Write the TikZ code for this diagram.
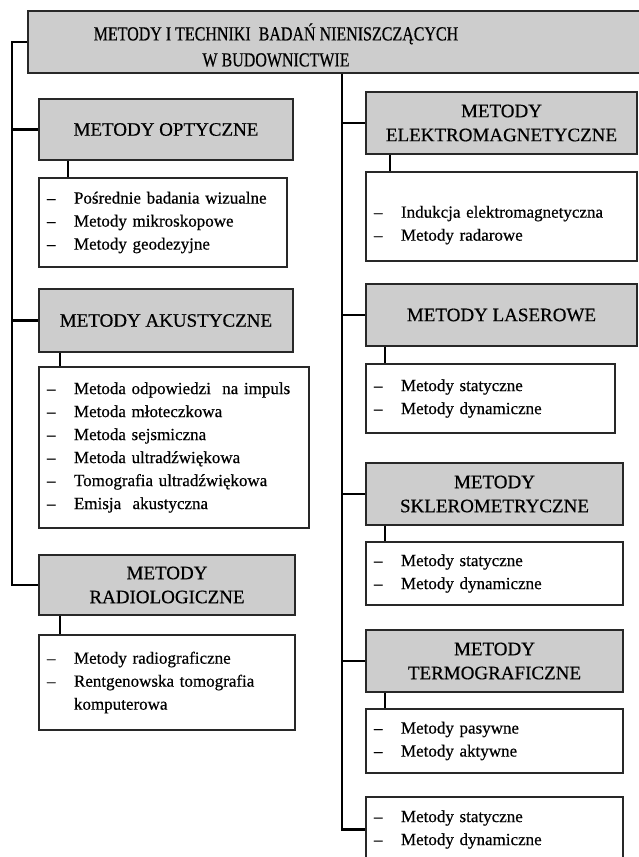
\documentclass[tikz,border=0pt]{standalone}
\usepackage{fontspec}
\setmainfont[FakeBold=0.5]{Liberation Serif}
\newfontfamily\titlefont[FakeStretch=0.8,FakeBold=0.5]{Liberation Serif}
\definecolor{hdrfill}{RGB}{205,205,205}
\definecolor{bordc}{RGB}{40,40,40}
\newcommand{\itm}[1]{\makebox[27pt][l]{–}#1}
\begin{document}
\begin{tikzpicture}[x=1pt,y=-1pt,
 hdr/.style={draw=bordc, line width=1.4pt, fill=hdrfill, inner sep=0pt, align=center, font=\fontsize{19}{24}\selectfont},
 lst/.style={draw=bordc, line width=1.4pt, fill=white, inner xsep=8pt, inner ysep=0pt, align=left, font=\fontsize{17}{23}\selectfont},
 trunk/.style={line width=2.6pt, black},
 stub/.style={line width=2.2pt, black}]
\useasboundingbox (0,0) rectangle (638,857);
\fill[white] (0,0) rectangle (638,857);
% title
\node[hdr, minimum width=622pt, minimum height=62pt] (title) at (339,42) {};
\node[font=\titlefont\fontsize{20}{26}\selectfont, align=center, inner sep=0pt] (titletxt) at (276,45)
 {METODY I TECHNIKI\ \ BADAŃ NIENISZCZĄCYCH\\W BUDOWNICTWIE};
% left column
\node[hdr, minimum width=254pt, minimum height=61pt] (hOpt) at (166,129.5) {METODY OPTYCZNE};
\node[lst, minimum width=248pt, text width=232pt, minimum height=89pt] (lOpt) at (163,222.5)
 {\itm{Pośrednie badania wizualne}\\\itm{Metody mikroskopowe}\\\itm{Metody geodezyjne}};
\node[hdr, minimum width=254pt, minimum height=63pt] (hAku) at (166,320.5) {METODY AKUSTYCZNE};
\node[lst, minimum width=270pt, text width=254pt, minimum height=161pt] (lAku) at (174,447.5)
 {\itm{Metoda odpowiedzi\ \ na impuls}\\\itm{Metoda młoteczkowa}\\\itm{Metoda sejsmiczna}\\\itm{Metoda ultradźwiękowa}\\\itm{Tomografia ultradźwiękowa}\\\itm{Emisja\ \ akustyczna}};
\node[hdr, minimum width=256pt, minimum height=60pt] (hRad) at (167,585) {METODY\\RADIOLOGICZNE};
\node[lst, minimum width=256pt, text width=240pt, minimum height=95pt] (lRad) at (167,682.5)
 {\itm{Metody radiograficzne}\\\itm{Rentgenowska tomografia}\\\hspace*{27pt}komputerowa};
% right column
\node[hdr, minimum width=271pt, minimum height=62pt] (hEle) at (501.5,123) {METODY\\ELEKTROMAGNETYCZNE};
\node[lst, minimum width=271pt, text width=255pt, minimum height=89pt] (lEle) at (501.5,216.5)
 {\rule{0pt}{29pt}\itm{Indukcja elektromagnetyczna}\\\itm{Metody radarowe}};
\node[hdr, minimum width=271pt, minimum height=62pt] (hLas) at (501.5,315) {METODY LASEROWE};
\node[lst, minimum width=249pt, text width=233pt, minimum height=69pt] (lLas) at (490.5,398.5)
 {\itm{Metody statyczne}\\\itm{Metody dynamiczne}};
\node[hdr, minimum width=257pt, minimum height=62pt] (hSkl) at (494.5,494) {METODY\\SKLEROMETRYCZNE};
\node[lst, minimum width=257pt, text width=241pt, minimum height=63pt] (lSkl) at (494.5,573.5)
 {\itm{Metody statyczne}\\\itm{Metody dynamiczne}};
\node[hdr, minimum width=257pt, minimum height=62pt] (hTer) at (494.5,661) {METODY\\TERMOGRAFICZNE};
\node[lst, minimum width=257pt, text width=241pt, minimum height=64pt] (lTer) at (494.5,741)
 {\itm{Metody pasywne}\\\itm{Metody aktywne}};
\node[lst, minimum width=257pt, text width=241pt, minimum height=65pt] (lBot) at (494.5,829.5)
 {\itm{Metody statyczne}\\\itm{Metody dynamiczne}};
% trunks
\coordinate (L) at (12,0);
\coordinate (R) at (342,0);
\draw[trunk] (title.west) -| (L |- hRad.west) -- (hRad.west);
\draw[trunk] (L |- hOpt.west) -- (hOpt.west);
\draw[trunk] (L |- hAku.west) -- (hAku.west);
\draw[trunk] (title.south -| R) |- (lBot.west);
\draw[trunk] (R |- hEle.west) -- (hEle.west);
\draw[trunk] (R |- hLas.west) -- (hLas.west);
\draw[trunk] (R |- hSkl.west) -- (hSkl.west);
\draw[trunk] (R |- hTer.west) -- (hTer.west);
% stubs
\draw[stub] ([xshift=30pt]hOpt.south west) -- ([xshift=30pt]hOpt.south west |- lOpt.north);
\draw[stub] ([xshift=22pt]hAku.south west) -- ([xshift=22pt]hAku.south west |- lAku.north);
\draw[stub] ([xshift=22pt]hRad.south west) -- ([xshift=22pt]hRad.south west |- lRad.north);
\draw[stub] ([xshift=25pt]hEle.south west) -- ([xshift=25pt]hEle.south west |- lEle.north);
\draw[stub] ([xshift=20pt]hLas.south west) -- ([xshift=20pt]hLas.south west |- lLas.north);
\draw[stub] ([xshift=20pt]hSkl.south west) -- ([xshift=20pt]hSkl.south west |- lSkl.north);
\draw[stub] ([xshift=20pt]hTer.south west) -- ([xshift=20pt]hTer.south west |- lTer.north);
\end{tikzpicture}
\end{document}
